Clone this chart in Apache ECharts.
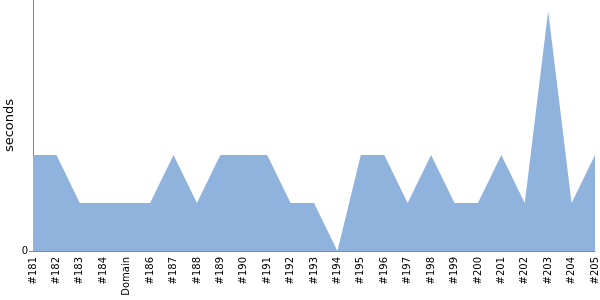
<!DOCTYPE html>
<html><head><meta charset="utf-8">
<script src="https://cdn.jsdelivr.net/npm/echarts@6/dist/echarts.min.js"></script>
<style>html,body{margin:0;padding:0;background:#fff}#c{width:600px;height:300px}</style>
</head><body><div id="c"></div>
<script>
const categories = ['#181','#182','#183','#184','Domain','#186','#187','#188','#189','#190','#191','#192','#193','#194','#195','#196','#197','#198','#199','#200','#201','#202','#203','#204','#205'];
const seconds = [2,2,1,1,1,1,2,1,2,2,2,1,1,0,2,2,1,2,1,1,2,1,5,1,2];
const yTicks = [0];
const chart = echarts.init(document.getElementById('c'), null, {renderer:'canvas'});
chart.setOption({
  animation:false,
  grid:{left:33,right:5,top:0,bottom:49,containLabel:false,outerBoundsMode:'none'},
  xAxis:{type:'category',data:categories,boundaryGap:false,
    axisLine:{lineStyle:{color:'#888'}},axisTick:{show:false},
    axisLabel:{rotate:90,fontSize:10,color:'#000',fontFamily:'DejaVu Sans',margin:6,interval:0}},
  yAxis:{type:'value',min:0,max:5.23,name:'seconds',nameLocation:'middle',nameGap:17,nameMoveOverlap:false,
    nameTextStyle:{fontSize:13,color:'#000',fontFamily:'DejaVu Sans'},
    axisLine:{show:true,lineStyle:{color:'#888'}},
    axisTick:{show:true,length:4,lineStyle:{color:'#888'},customValues:yTicks},
    axisLabel:{fontSize:10,color:'#000',fontFamily:'DejaVu Sans',customValues:yTicks,margin:5},
    splitLine:{show:false}},
  series:[{type:'line',data:seconds,symbol:'none',lineStyle:{width:0},
    areaStyle:{color:'#8fb3dc',opacity:1}}]
});
</script></body></html>
